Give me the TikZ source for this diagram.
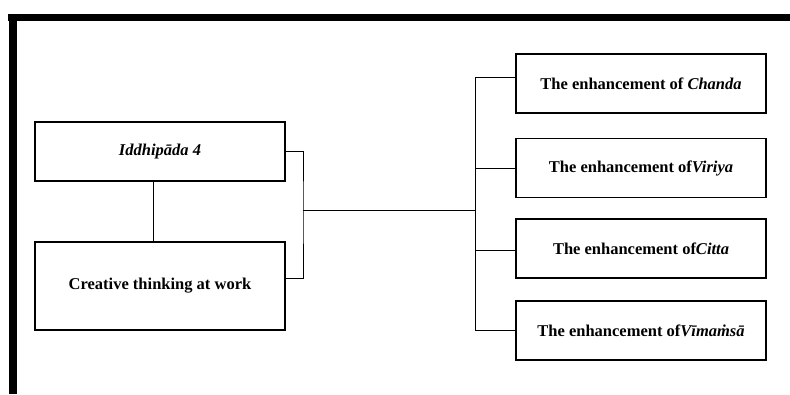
\documentclass[tikz,border=0pt]{standalone}
\usepackage{fontspec}
\setmainfont{Liberation Serif}
\begin{document}
\begin{tikzpicture}[x=1pt,y=-1pt,
  box/.style={draw,line width=1.3pt,minimum width=250pt,inner sep=0pt,align=center,
    font=\fontsize{16.5}{19}\selectfont\bfseries},
  conn/.style={line width=0.9pt}]
\useasboundingbox (0,0) rectangle (790,394);
\fill (8,14) rectangle (790,21);
\fill (9,14) rectangle (16.5,394);
\node[box,minimum height=59pt] (idd) at (160,151.5) {\textit{Iddhipāda 4}};
\node[box,minimum height=88pt] (cre) at (160,286) {Creative thinking at work};
\node[box,minimum height=59pt] (e1) at (641,83.5) {The enhancement of \textit{Chanda}};
\node[box,minimum height=59pt] (e2) at (641,168) {The enhancement of\textit{Viriya}};
\node[box,minimum height=59pt] (e3) at (641,248.5) {The enhancement of\textit{Citta}};
\node[box,minimum height=59pt] (e4) at (641,330.5) {The enhancement of\textit{Vīmaṁsā}};
\coordinate (bj) at (303,210);
\coordinate (rj) at (476,210);
\coordinate (rt) at (475,77);
\coordinate (rb) at (475,330);
\draw[conn] (idd.south -| 153,0) -- (cre.north -| 153,0);
\draw[conn] (idd.east) -| (bj) |- (cre.east |- 0,278);
\draw[conn] (bj) -- (rj);
\draw[conn] (rt) -- (rb);
\draw[conn] (rt) -- (e1.west |- rt);
\draw[conn] (rt |- e2.west) -- (e2.west);
\draw[conn] (475,250) -- (e3.west |- 0,250);
\draw[conn] (rb) -- (e4.west |- rb);
\end{tikzpicture}
\end{document}
